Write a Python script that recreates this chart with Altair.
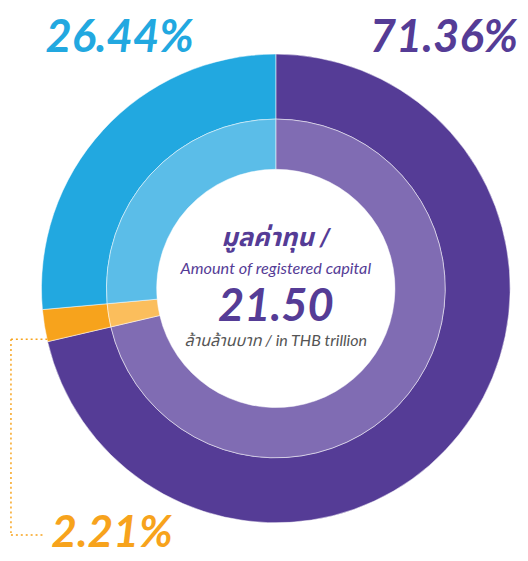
import altair as alt
import pandas as pd

categories = ["Purple", "Orange", "Blue"]
shares = [71.36, 2.21, 26.44]
outer_colors = ["#553C96", "#F7A31C", "#22A8E0"]
inner_colors = ["#806CB3", "#FBBE5C", "#5BBDE8"]
pct_labels = ["71.36%", "2.21%", "26.44%"]
center_lines = ["มูลค่าทุน /", "Amount of registered capital", "21.50", "ล้านล้านบาท / in THB trillion"]

df = pd.DataFrame({
    "cat": categories,
    "value": shares,
    "order": list(range(len(categories))),
    "outer": outer_colors,
    "inner": inner_colors,
})

W, H = 520, 553
CX, CY = 272, 280.5
FONT = "Lato, 'Noto Sans Thai', 'Noto Sans', sans-serif"

base = alt.Chart(df).encode(
    theta=alt.Theta("value:Q", stack=True),
    order=alt.Order("order:Q"),
    x=alt.value(CX),
    y=alt.value(CY),
)

outer = base.mark_arc(outerRadius=238, innerRadius=172, stroke="white", strokeWidth=0.5).encode(
    color=alt.Color("outer:N", scale=None)
)
inner = base.mark_arc(outerRadius=172, innerRadius=121, stroke="white", strokeWidth=0.5).encode(
    color=alt.Color("inner:N", scale=None)
)

def txt(s, x, y, size, color, weight="bold", style="italic", align="left", font=FONT):
    return alt.Chart(pd.DataFrame({"t": [s]})).mark_text(
        font=font, fontSize=size, fontWeight=weight, fontStyle=style,
        color=color, align=align, baseline="alphabetic",
    ).encode(text="t:N", x=alt.value(x), y=alt.value(y))

labels = [
    txt(pct_labels[2], 38, 40, 46, outer_colors[2]),
    txt(pct_labels[0], 518, 40, 46, outer_colors[0], align="right"),
    txt(pct_labels[1], 44, 543, 45, outer_colors[1]),
    txt(center_lines[0], CX, 237, 26, "#553C96", align="center"),
    txt(center_lines[1], CX, 266, 16.5, "#553C96", weight="normal", align="center"),
    txt(center_lines[2], CX, 314, 46, "#553C96", align="center"),
    txt(center_lines[3], CX, 339, 16.3, "#555555", weight="normal", align="center"),
]

dash = dict(color="#F7A31C", strokeDash=[2, 3], strokeWidth=1.5)
lead1 = alt.Chart(df.head(1)).mark_rule(**dash).encode(
    x=alt.value(3), x2=alt.value(40), y=alt.value(332), y2=alt.value(332))
lead2 = alt.Chart(df.head(1)).mark_rule(**dash).encode(
    x=alt.value(3), x2=alt.value(3), y=alt.value(332), y2=alt.value(531))
lead3 = alt.Chart(df.head(1)).mark_rule(**dash).encode(
    x=alt.value(3), x2=alt.value(35), y=alt.value(531), y2=alt.value(531))

chart = alt.layer(outer, inner, lead1, lead2, lead3, *labels).properties(
    width=W, height=H, padding=0, autosize=alt.AutoSizeParams(type="none"),
    background="white",
).configure_view(stroke=None)

chart.save("out.html", embed_options={"renderer": "svg", "actions": False})
